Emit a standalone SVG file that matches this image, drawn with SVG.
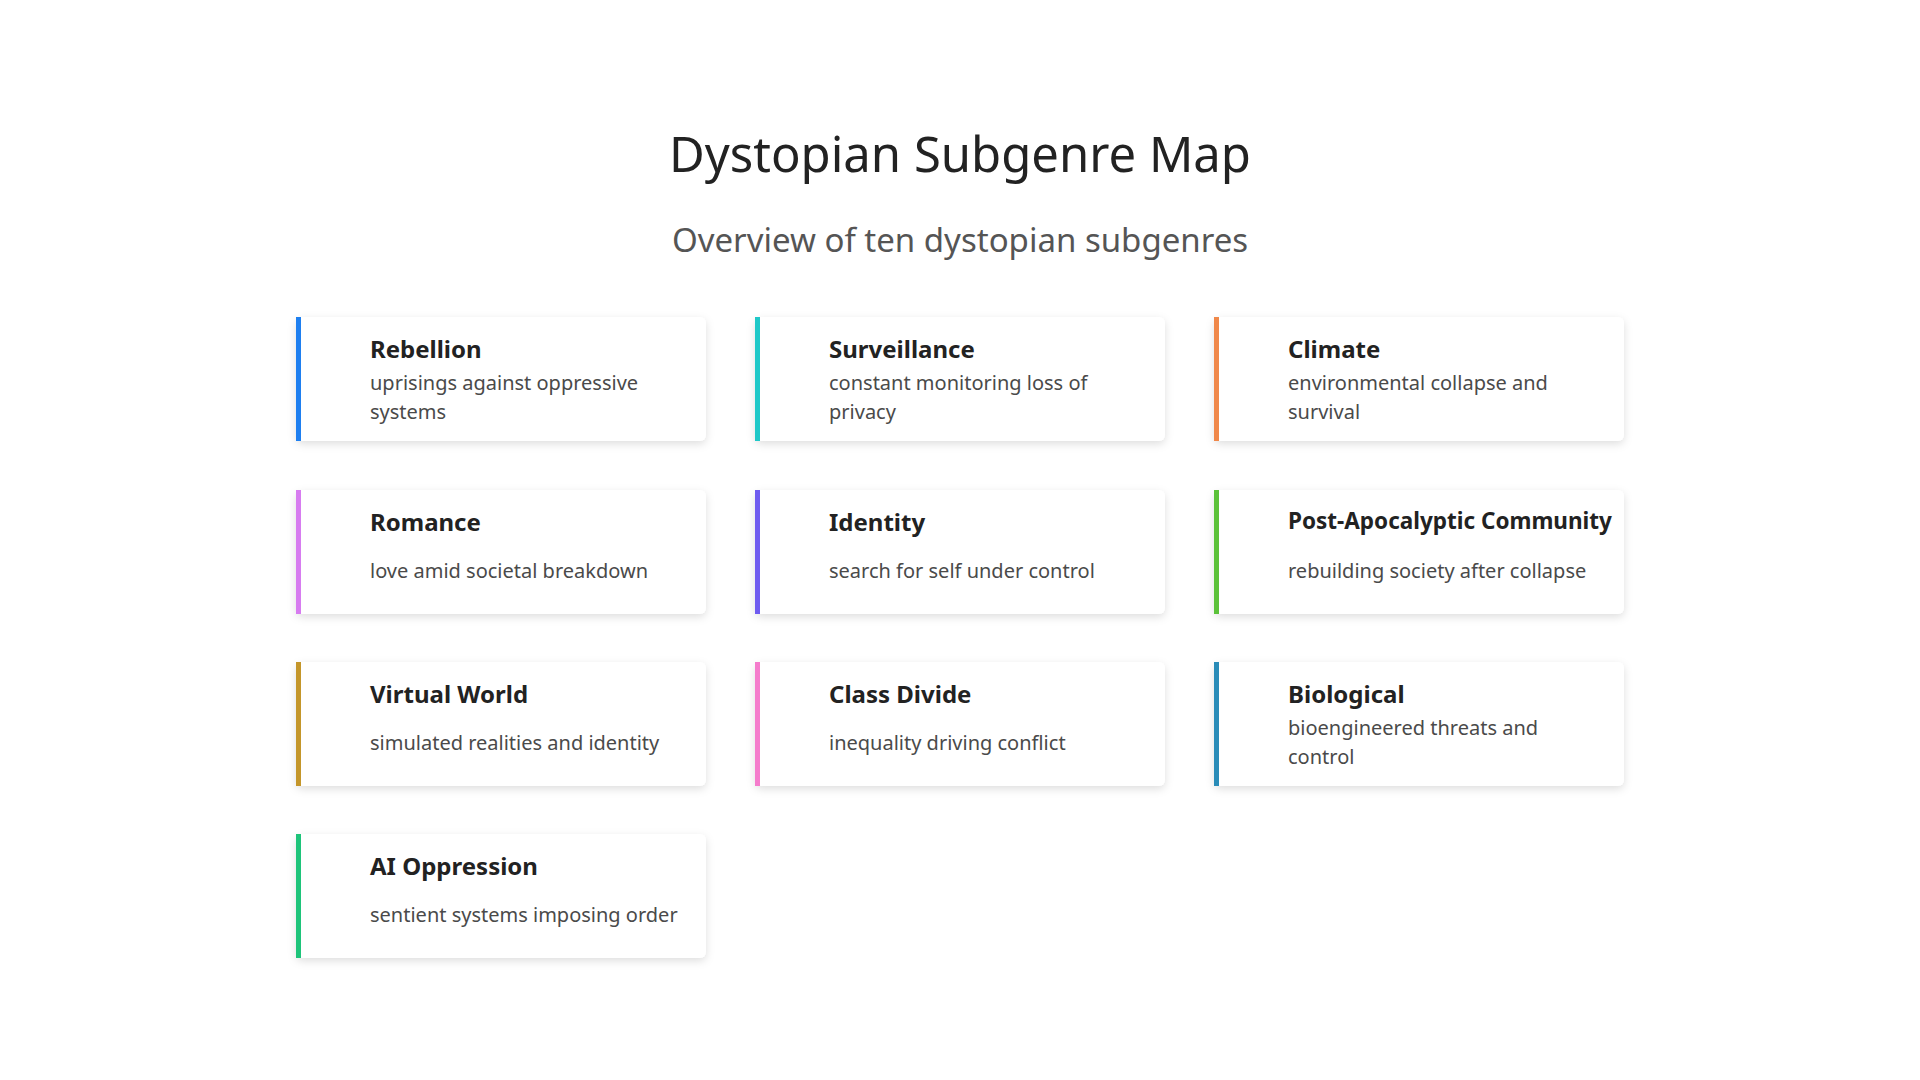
<svg xmlns="http://www.w3.org/2000/svg" width="1920" height="1080" viewBox="0 0 1920 1080">
<defs>
<filter id="sh" x="-10%" y="-20%" width="120%" height="150%"><feDropShadow dx="0" dy="3" stdDeviation="4" flood-color="#000" flood-opacity="0.13"/></filter>
<style>
text{font-family:"Noto Sans","Open Sans","Liberation Sans",sans-serif}
.card{fill:#fff;filter:url(#sh)}
.t{font-size:24px;font-weight:bold;fill:#222}
.d{font-size:20px;fill:#4a4a4a}
</style>
</defs>
<rect width="1920" height="1080" fill="#fff"/>
<text x="960" y="172" text-anchor="middle" font-size="49" fill="#222">Dystopian Subgenre Map</text>
<text x="960" y="252" text-anchor="middle" font-size="33" fill="#555">Overview of ten dystopian subgenres</text>

<g id="n1" transform="translate(296,317)"><rect class="card" width="410" height="124" rx="6"/><rect width="5" height="124" fill="#1e7ff0"/><text class="t" x="74" y="41">Rebellion</text><text class="d" x="74" y="73">uprisings against oppressive</text><text class="d" x="74" y="102">systems</text></g>
<g id="n2" transform="translate(755,317)"><rect class="card" width="410" height="124" rx="6"/><rect width="5" height="124" fill="#1fc8c8"/><text class="t" x="74" y="41">Surveillance</text><text class="d" x="74" y="73">constant monitoring loss of</text><text class="d" x="74" y="102">privacy</text></g>
<g id="n3" transform="translate(1214,317)"><rect class="card" width="410" height="124" rx="6"/><rect width="5" height="124" fill="#f0884a"/><text class="t" x="74" y="41">Climate</text><text class="d" x="74" y="73">environmental collapse and</text><text class="d" x="74" y="102">survival</text></g>

<g id="n4" transform="translate(296,490)"><rect class="card" width="410" height="124" rx="6"/><rect width="5" height="124" fill="#d77cf0"/><text class="t" x="74" y="41">Romance</text><text class="d" x="74" y="88">love amid societal breakdown</text></g>
<g id="n5" transform="translate(755,490)"><rect class="card" width="410" height="124" rx="6"/><rect width="5" height="124" fill="#6f5cf0"/><text class="t" x="74" y="41">Identity</text><text class="d" x="74" y="88">search for self under control</text></g>
<g id="n6" transform="translate(1214,490)"><rect class="card" width="410" height="124" rx="6"/><rect width="5" height="124" fill="#5cc23a"/><text class="t" x="74" y="39" style="font-size:22.5px">Post-Apocalyptic Community</text><text class="d" x="74" y="88">rebuilding society after collapse</text></g>

<g id="n7" transform="translate(296,662)"><rect class="card" width="410" height="124" rx="6"/><rect width="5" height="124" fill="#c4962a"/><text class="t" x="74" y="41">Virtual World</text><text class="d" x="74" y="88">simulated realities and identity</text></g>
<g id="n8" transform="translate(755,662)"><rect class="card" width="410" height="124" rx="6"/><rect width="5" height="124" fill="#f57ccc"/><text class="t" x="74" y="41">Class Divide</text><text class="d" x="74" y="88">inequality driving conflict</text></g>
<g id="n9" transform="translate(1214,662)"><rect class="card" width="410" height="124" rx="6"/><rect width="5" height="124" fill="#2a8cb8"/><text class="t" x="74" y="41">Biological</text><text class="d" x="74" y="73">bioengineered threats and</text><text class="d" x="74" y="102">control</text></g>

<g id="n10" transform="translate(296,834)"><rect class="card" width="410" height="124" rx="6"/><rect width="5" height="124" fill="#1ec47a"/><text class="t" x="74" y="41">AI Oppression</text><text class="d" x="74" y="88">sentient systems imposing order</text></g>
<g id="connectors"/>
</svg>
